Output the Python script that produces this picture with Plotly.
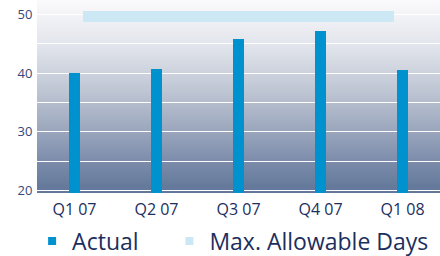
import base64
import plotly.graph_objects as go

categories = ["Q1 07", "Q2 07", "Q3 07", "Q4 07", "Q1 08"]
actual = [40.1, 40.7, 45.9, 47.2, 40.5]
max_allowable = [49.7, 49.7, 49.7, 49.7, 49.7]
y_ticks = [20, 30, 40, 50]

BAR = "#0092cf"
BAND = "#cde8f5"
NAVY = "#1b2f5e"

idx = list(range(len(categories)))

# background gradient stops (offset from top, colour)
grad_stops = [(0.0, "#fbfbfc"), (0.10, "#f0f1f5"), (0.23, "#e2e5ec"), (0.38, "#ccd2dd"),
              (0.53, "#b5bdcd"), (0.68, "#9aa6bd"), (0.83, "#7d8dab"), (0.96, "#667b9c"),
              (1.0, "#62779a")]
svg = ('<svg xmlns="http://www.w3.org/2000/svg" width="100" height="100" preserveAspectRatio="none">'
       '<defs><linearGradient id="g" x1="0" y1="0" x2="0" y2="1">'
       + "".join('<stop offset="%g" stop-color="%s"/>' % (o, c) for o, c in grad_stops)
       + '</linearGradient></defs><rect width="100" height="100" fill="url(#g)"/></svg>')
src = "data:image/svg+xml;base64," + base64.b64encode(svg.encode()).decode()

fig = go.Figure()
fig.add_trace(go.Bar(x=idx, y=actual, width=0.134, marker=dict(color=BAR, line=dict(width=0)),
                     name="Actual", showlegend=False))
fig.add_trace(go.Scatter(x=idx, y=max_allowable, xaxis="x2", mode="lines",
                         line=dict(color=BAND, width=11), name="Max. Allowable Days", showlegend=False))
# legend entries
fig.add_trace(go.Scatter(x=[None], y=[None], mode="markers", name="Actual", legend="legend",
                         marker=dict(symbol="square", size=8, color=BAR)))
fig.add_trace(go.Scatter(x=[None], y=[None], mode="markers", name="Max. Allowable Days", legend="legend2",
                         marker=dict(symbol="square", size=8, color=BAND)))

legend_common = dict(orientation="h", xref="container", yref="container", y=0.058,
                     xanchor="left", yanchor="middle", font=dict(size=23, color=NAVY),
                     itemwidth=30, bgcolor="rgba(0,0,0,0)")

fig.update_layout(
    width=440, height=256,
    margin=dict(l=37, r=0, t=0, b=63, autoexpand=False),
    paper_bgcolor="white",
    plot_bgcolor="rgba(0,0,0,0)",
    images=[dict(source=src, xref="paper", yref="paper", x=0, y=1, sizex=1, sizey=1,
                 xanchor="left", yanchor="top", sizing="stretch", layer="below")],
    font=dict(family="Open Sans", color=NAVY),
    xaxis=dict(range=[-0.457, 4.457], tickvals=idx, ticktext=categories, showgrid=False,
               zeroline=False, showline=False, ticks="outside", ticklen=2, tickcolor="rgba(0,0,0,0)",
               tickfont=dict(size=16, color=NAVY)),
    xaxis2=dict(range=[-0.5916, 4.592], overlaying="x", visible=False),
    yaxis=dict(range=[19.55, 52.5], tickvals=y_ticks, showgrid=True, gridcolor="white", gridwidth=1.2,
               minor=dict(dtick=5, tick0=0, showgrid=True, gridcolor="white", gridwidth=1.2),
               zeroline=False, showline=False, ticks="outside", ticklen=1, tickcolor="rgba(0,0,0,0)",
               tickfont=dict(size=13, color="#34487a")),
    legend=dict(x=0.073, **legend_common),
    legend2=dict(x=0.385, **legend_common),
    showlegend=True,
    bargap=0,
)

fig.write_html("out.html", config={"displayModeBar": False},
               post_script="document.body.style.margin='0';document.body.style.padding='0';")
